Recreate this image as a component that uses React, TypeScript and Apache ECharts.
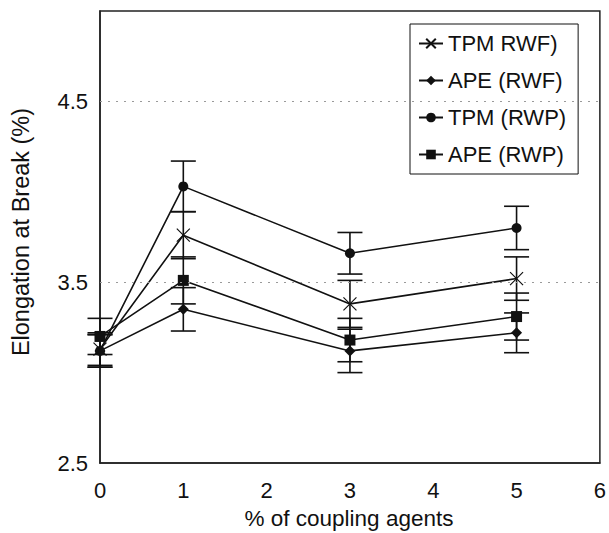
import React, { useEffect, useRef } from "react";
import * as echarts from "echarts";

const xValues = [0, 1, 3, 5];
const seriesNames = ["TPM RWF)", "APE (RWF)", "TPM (RWP)", "APE (RWP)"];
const tpmRwf = [3.13, 3.76, 3.38, 3.52];
const apeRwf = [3.12, 3.35, 3.12, 3.22];
const tpmRwp = [3.12, 4.03, 3.66, 3.8];
const apeRwp = [3.2, 3.51, 3.18, 3.31];
const tpmRwfErr = [0.09, 0.13, 0.13, 0.12];
const apeRwfErr = [0.09, 0.12, 0.12, 0.11];
const tpmRwpErr = [0.09, 0.14, 0.115, 0.12];
const apeRwpErr = [0.1, 0.13, 0.12, 0.13];
const yTickLabels = ["2.5", "3.5", "4.5"];
const gridLineValues = [3.5, 4.5];

const FONT = "'Liberation Sans', Arial, sans-serif";
const INK = "#111";

export default function App() {
  const ref = useRef<HTMLDivElement>(null);

  useEffect(() => {
    if (!ref.current) return;
    const chart = echarts.init(ref.current, undefined, { renderer: "svg" });

    const values = [tpmRwf, apeRwf, tpmRwp, apeRwp];
    const errs = [tpmRwfErr, apeRwfErr, tpmRwpErr, apeRwpErr];
    const symbols = ["path://M0 0L10 10M10 0L0 10", "diamond", "circle", "rect"];
    const sizes = [13, 11, 10, 11];

    const lineSeries: any[] = values.map((vals, i) => ({
      type: "line",
      name: seriesNames[i],
      data: xValues.map((x, j) => [x, vals[j]]),
      symbol: symbols[i],
      symbolSize: sizes[i],
      showSymbol: true,
      lineStyle: { color: INK, width: 1.6 },
      itemStyle:
        i === 0
          ? { color: "none", borderColor: INK, borderWidth: 1.2 }
          : { color: INK, borderColor: INK, borderWidth: 0 },
      z: 3,
      markLine:
        i === 0
          ? {
              silent: true,
              symbol: "none",
              label: { show: false },
              lineStyle: { color: "#9a9a9a", type: [2, 6], width: 1 },
              data: gridLineValues.map((v) => ({ yAxis: v })),
            }
          : undefined,
    }));

    const errData: number[][] = [];
    values.forEach((vals, i) => {
      xValues.forEach((x, j) => {
        errData.push([x, vals[j] - errs[i][j], vals[j] + errs[i][j]]);
      });
    });

    const errorSeries = {
      type: "custom",
      name: "err",
      data: errData,
      z: 2,
      renderItem: (params: any, api: any) => {
        const x = api.value(0);
        const lo = api.coord([x, api.value(1)]);
        const hi = api.coord([x, api.value(2)]);
        const hw = 12.5;
        const style = { stroke: INK, lineWidth: 1.6, fill: "none" };
        return {
          type: "group",
          children: [
            { type: "line", shape: { x1: lo[0], y1: lo[1], x2: hi[0], y2: hi[1] }, style },
            { type: "line", shape: { x1: lo[0] - hw, y1: lo[1], x2: lo[0] + hw, y2: lo[1] }, style },
            { type: "line", shape: { x1: hi[0] - hw, y1: hi[1], x2: hi[0] + hw, y2: hi[1] }, style },
          ],
        };
      },
    };

    chart.setOption({
      animation: false,
      textStyle: { fontFamily: FONT },
      grid: {
        left: 100,
        top: 11,
        right: 9,
        bottom: 70,
        show: true,
        borderColor: "#222",
        borderWidth: 1.5,
        backgroundColor: "#fff",
      },
      legend: {
        data: seriesNames,
        orient: "vertical",
        left: 410,
        top: 24,
        padding: [8, 12, 8, 8],
        borderColor: INK,
        borderWidth: 1,
        backgroundColor: "#fff",
        itemWidth: 24,
        itemHeight: 12,
        itemGap: 14,
        textStyle: { fontSize: 22, color: INK, fontFamily: FONT, lineHeight: 23 },
      },
      xAxis: {
        type: "value",
        min: 0,
        max: 6,
        interval: 1,
        axisLine: { show: true, lineStyle: { color: "#222", width: 1.5 } },
        axisTick: { show: false },
        splitLine: { show: false },
        axisLabel: { fontSize: 22, color: INK, margin: 16, fontFamily: FONT },
      },
      yAxis: {
        type: "value",
        min: 2.5,
        max: 5,
        interval: 0.5,
        axisLine: { show: true, lineStyle: { color: "#222", width: 1.5 } },
        axisTick: { show: false },
        splitLine: { show: false },
        axisLabel: {
          fontSize: 22,
          color: INK,
          margin: 12,
          fontFamily: FONT,
          formatter: (v: number) => {
            const s = v.toFixed(1);
            return yTickLabels.includes(s) ? s : "";
          },
        },
      },
      graphic: [
        {
          type: "text",
          x: 349,
          y: 518,
          style: {
            text: "% of coupling agents",
            fontSize: 22.5,
            fontFamily: FONT,
            fill: INK,
            textAlign: "center",
            textVerticalAlign: "middle",
          },
        },
        {
          type: "text",
          x: 21,
          y: 232,
          rotation: Math.PI / 2,
          style: {
            text: "Elongation at Break (%)",
            fontSize: 23.5,
            fontFamily: FONT,
            fill: INK,
            textAlign: "center",
            textVerticalAlign: "middle",
          },
        },
      ],
      series: [errorSeries, ...lineSeries],
    });

    return () => chart.dispose();
  }, []);

  return <div ref={ref} style={{ width: 609, height: 533, position: "absolute", left: 0, top: 0, background: "#fff" }} />;
}
